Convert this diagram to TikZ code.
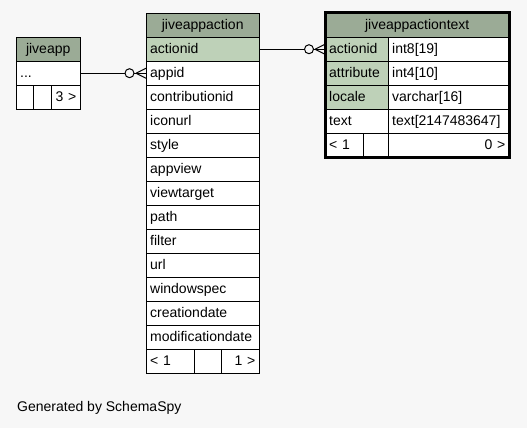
\documentclass[tikz,border=0pt]{standalone}
\usepackage{fontspec}
\setmainfont{Liberation Sans}
\usetikzlibrary{positioning}
\definecolor{hdrgreen}{HTML}{9BAB96}
\definecolor{keygreen}{HTML}{BED1B8}
\definecolor{bggray}{HTML}{F7F7F7}

\begin{document}
\begin{tikzpicture}[x=1pt, y=-1pt, font=\fontsize{14}{16}\selectfont,
  cell/.style={draw, fill=white, anchor=north west, inner xsep=4pt, inner ysep=0pt,
    minimum height=24pt, text height=11pt, text depth=3pt, text width=#1, align=left},
  hdr/.style={cell=#1, fill=hdrgreen, align=center},
  rcell/.style={cell=#1, align=right},
  conn/.style={line width=1pt}]
  \fill[bggray] (0,0) rectangle (527,428);
  \useasboundingbox (0,0) rectangle (527,428);
  % jiveapp
  \node[hdr=56pt] (app-hdr) at (16,37) {jiveapp};
  \node[cell=56pt] (app-0) at (16,61) {...};
  \node[cell=9pt] (app-f1) at (16,85) {};
  \node[cell=10pt] (app-f2) at (33,85) {};
  \node[rcell=21pt] (app-f3) at (51,85) {3 >};
  % jiveappaction
  \node[hdr=105pt] (act-hdr) at (146,13) {jiveappaction};
  \node[cell=105pt, fill=keygreen] (act-0) at (146,37) {actionid};
  \foreach \col [count=\i from 1] in {appid,contributionid,iconurl,style,appview,
      viewtarget,path,filter,url,windowspec,creationdate,modificationdate}
    \node[cell=105pt] (act-\i) at (146,{37+24*\i}) {\col};
  \node[cell=40pt] (act-f1) at (146,349) {< 1};
  \node[cell=19pt] (act-f2) at (194,349) {};
  \node[rcell=30pt] (act-f3) at (221,349) {1 >};
  % jiveappactiontext
  \node[hdr=176pt] (txt-hdr) at (325,13) {jiveappactiontext};
  \foreach \nm/\ty/\fl [count=\i from 0] in {actionid/int8[19]/keygreen,
      attribute/int4[10]/keygreen, locale/varchar[16]/keygreen,
      text/text[2147483647]/white}
  {
    \node[cell=55pt, fill=\fl] (txt-\i) at (325,{37+24*\i}) {\nm};
    \node[cell=113pt] (txt-\i-type) at (388,{37+24*\i}) {\ty};
  }
  \node[cell=30pt] (txt-f1) at (325,133) {< 1};
  \node[cell=17pt] (txt-f2) at (363,133) {};
  \node[rcell=113pt] (txt-f3) at (388,133) {0 >};
  \draw[line width=3pt] (txt-hdr.north west) rectangle (txt-f3.south east);
  % jiveapp -> appid
  \draw[conn] (app-0.east) -- (act-1.west);
  \draw[conn, fill=bggray] ([xshift=-16.5pt]act-1.west) circle (4.5pt);
  \draw[conn] ([xshift=-10pt]act-1.west) -- ([yshift=5pt]act-1.west)
    ([xshift=-10pt]act-1.west) -- ([yshift=-5pt]act-1.west);
  % actionid -> jiveappactiontext
  \draw[conn] (act-0.east) -- (txt-0.west);
  \draw[conn, fill=bggray] ([xshift=-16pt]txt-0.west) circle (4.5pt);
  \draw[conn] ([xshift=-10pt]txt-0.west) -- ([yshift=5pt]txt-0.west)
    ([xshift=-10pt]txt-0.west) -- ([yshift=-5pt]txt-0.west);
  \node[anchor=base west, inner sep=0pt] (credit) at (17,411) {Generated by SchemaSpy};
\end{tikzpicture}
\end{document}
